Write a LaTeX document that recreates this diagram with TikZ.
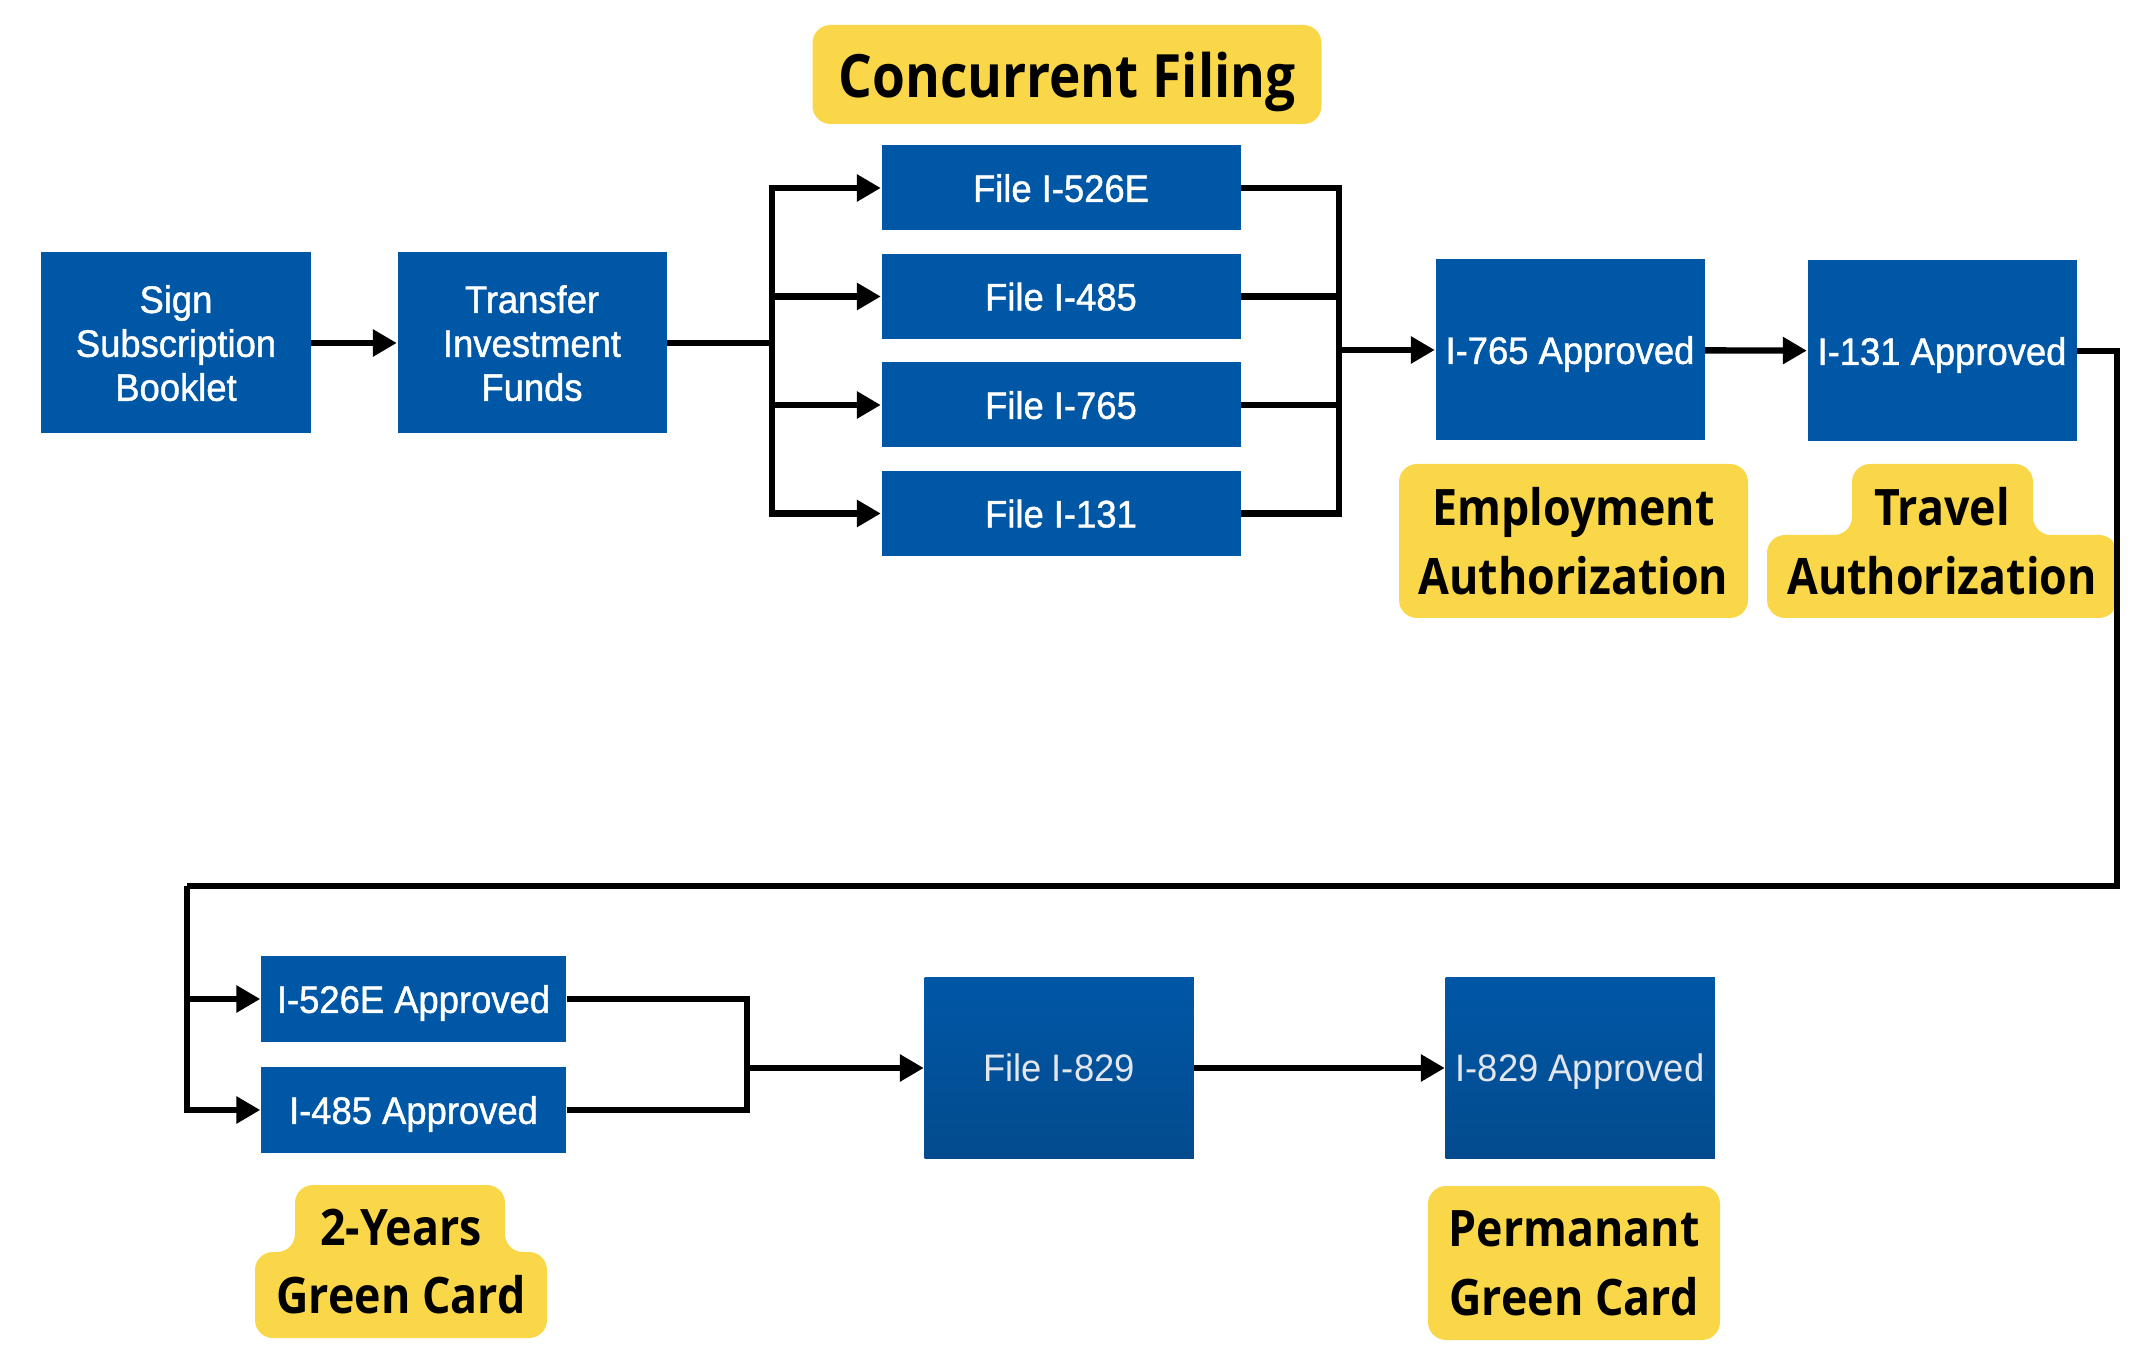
\documentclass[tikz,border=0pt]{standalone}
\usepackage{fontspec}
\usetikzlibrary{arrows.meta, positioning}
\newfontfamily\boxfont[FakeStretch=0.95, FakeBold=1.2]{Liberation Sans}
\newfontfamily\latefont[FakeStretch=0.95]{Liberation Sans}
\newfontfamily\tagfont[FakeStretch=0.89]{Open Sans}
\definecolor{FormBlue}{HTML}{0057A6}
\definecolor{FormDeep}{HTML}{034B8E}
\definecolor{TagYellow}{HTML}{F9D748}
\definecolor{PaleText}{HTML}{E3E6EC}
\tikzset{
  formbox/.style={rectangle, fill=FormBlue, text=white, inner sep=0pt, align=center,
    text depth=0pt, font={\boxfont\fontsize{10.9}{12.5}\selectfont}},
  bigform/.style={formbox, minimum width=2.69cm, minimum height=1.81cm},
  slimform/.style={formbox, minimum width=3.59cm, minimum height=0.85cm},
  okform/.style={formbox, minimum width=3.05cm, minimum height=0.86cm},
  lateform/.style={bigform, top color=FormBlue, bottom color=FormDeep, text=PaleText,
    font={\latefont\fontsize{10.9}{12.5}\selectfont}},
  tagtext/.style={inner sep=0pt, align=center, text=black,
    font={\tagfont\bfseries\fontsize{14.3}{19.6}\selectfont}},
  tag/.style={tagtext, fill=TagYellow, rounded corners=1.8mm},
  tagback/.style={fill=TagYellow, rounded corners=1.8mm},
  flow/.style={line width=1.8pt, black},
  flowarrow/.style={flow, -{Triangle[length=2.4mm, width=2.6mm]}},
}

\begin{document}
\begin{tikzpicture}
    \useasboundingbox (0,0) rectangle (21.53,-13.72);

    % First row
    \node[bigform] (sign) at (1.76,-3.43) {Sign\\Subscription\\Booklet};
    \node[bigform] (transfer) at (5.32,-3.43) {Transfer\\Investment\\Funds};

    \node[slimform] (f526) at (10.61,-1.88) {File I-526E};
    \node[slimform] (f485) at (10.61,-2.965) {File I-485};
    \node[slimform] (f765) at (10.61,-4.05) {File I-765};
    \node[slimform] (f131) at (10.61,-5.135) {File I-131};

    \node[bigform] (ok765) at (15.70,-3.50) {I-765 Approved};
    \node[bigform] (ok131) at (19.42,-3.51) {I-131 Approved};

    % Second row
    \node[okform] (ok526) at (4.135,-9.99) {I-526E Approved};
    \node[okform] (ok485) at (4.135,-11.10) {I-485 Approved};
    \node[lateform] (f829) at (10.59,-10.68) {File I-829};
    \node[lateform] (ok829) at (15.80,-10.68) {I-829 Approved};

    % Tags
    \node[tag, minimum width=5.09cm, minimum height=0.99cm, text depth=0pt,
          font={\tagfont\bfseries\fontsize{17}{20}\selectfont}] (concur) at (10.67,-0.745) {Concurrent Filing};
    \node[tag, minimum width=3.49cm, minimum height=1.54cm] (work) at (15.735,-5.41) {Employment\\Authorization};
    \node[tag, minimum width=2.92cm, minimum height=1.54cm] (perm) at (15.74,-12.63) {Permanant\\Green Card};

    \fill[tagback] (17.67,-6.18) -- (17.67,-5.35) -- (18.52,-5.35) -- (18.52,-4.64)
        -- (20.33,-4.64) -- (20.33,-5.35) -- (21.17,-5.35) -- (21.17,-6.18) -- cycle;
    \node[tagtext] (trip) at (19.42,-5.41) {Travel\\Authorization};

    \fill[tagback] (2.55,-13.38) -- (2.55,-12.52) -- (2.95,-12.52) -- (2.95,-11.85)
        -- (5.05,-11.85) -- (5.05,-12.52) -- (5.47,-12.52) -- (5.47,-13.38) -- cycle;
    \node[tagtext] (card2) at (4.01,-12.615) {2-Years\\Green Card};

    % Arrows
    \coordinate (split) at (7.72,-3.43);
    \coordinate (merge) at (13.39,-3.50);
    \coordinate (wrapR) at (21.17,-8.86);
    \coordinate (wrapL) at (1.87,-8.86);
    \coordinate (join) at (7.47,-10.68);

    \draw[flowarrow] (sign) -- (transfer);
    \draw[flow] (transfer.east) -- (split);
    \foreach \f in {f526,f485,f765,f131} {
        \draw[flowarrow] (split) |- (\f.west);
        \draw[flow] (\f.east) -| (merge);
    }
    \draw[flowarrow] (merge) -- (ok765.west);
    \draw[flowarrow] (ok765) -- (ok131);
    \draw[flow] (ok131.east) -| (wrapR) -- (wrapL);
    \draw[flowarrow] (wrapL) |- (ok526.west);
    \draw[flowarrow] (wrapL) |- (ok485.west);
    \draw[flow] (ok526.east) -| (join);
    \draw[flow] (ok485.east) -| (join);
    \draw[flowarrow] (join) -- (f829.west);
    \draw[flowarrow] (f829) -- (ok829);
\end{tikzpicture}
\end{document}
